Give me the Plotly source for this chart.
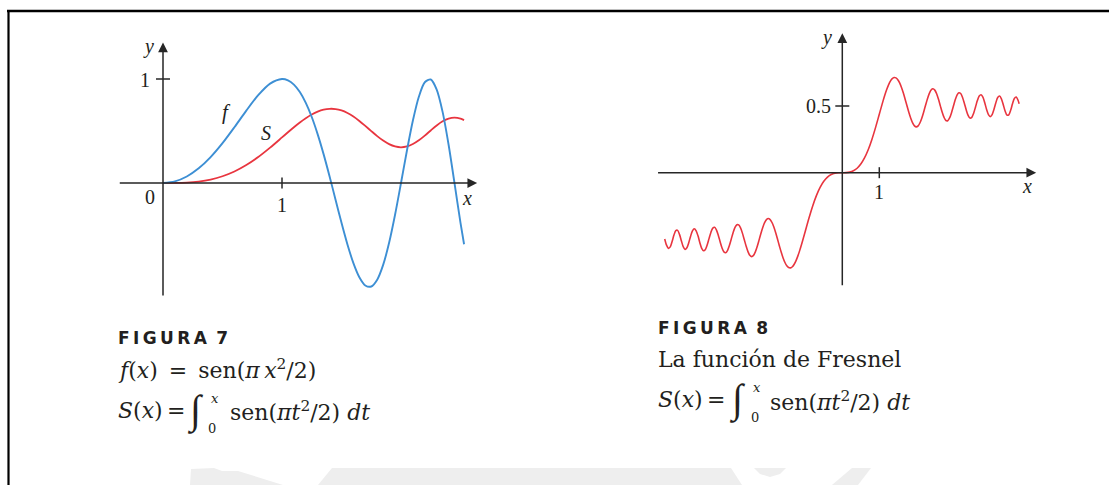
import plotly.graph_objects as go

W, H = 1109, 485

# ---------------- data ----------------
# FIGURA 7: f(x) = sen(pi x^2/2) and S(x), sampled on 0 <= x <= 2.53
x7 = [0.0, 0.1, 0.2, 0.3, 0.4, 0.5, 0.6, 0.7, 0.8, 0.9,
      1.0, 1.05, 1.1, 1.15, 1.2, 1.25, 1.3, 1.35, 1.4, 1.45,
      1.5, 1.55, 1.6, 1.65, 1.7, 1.75, 1.8, 1.85, 1.9, 1.95,
      2.0, 2.05, 2.1, 2.15, 2.2, 2.25, 2.3, 2.35, 2.4, 2.45,
      2.5, 2.53]
f7 = [0.0, 0.0157, 0.0628, 0.1409, 0.2487, 0.3827, 0.5358, 0.6959, 0.8443, 0.9558,
      1.0, 0.9871, 0.9461, 0.8744, 0.7705, 0.6344, 0.4679, 0.2752, 0.0628, -0.1603,
      -0.3827, -0.5910, -0.7705, -0.9064, -0.9851, -0.9952, -0.9298, -0.7877, -0.5750, -0.3053,
      0.0, 0.3128, 0.6004, 0.8290, 0.9686, 0.9952, 0.8980, 0.6816, 0.3681, -0.0039,
      -0.3827, -0.5889]
s7 = [0.0, 0.0005, 0.0042, 0.0141, 0.0334, 0.0647, 0.1105, 0.1721, 0.2493, 0.3398,
      0.4383, 0.4881, 0.5365, 0.5822, 0.6234, 0.6587, 0.6863, 0.7050, 0.7135, 0.7111,
      0.6975, 0.6730, 0.6389, 0.5967, 0.5492, 0.4994, 0.4509, 0.4077, 0.3734, 0.3512,
      0.3434, 0.3513, 0.3743, 0.4104, 0.4557, 0.5053, 0.5532, 0.5930, 0.6197, 0.6288,
      0.6192, 0.6045]

# FIGURA 8: Fresnel function S(x) on -4.8 <= x <= 4.78
x8_neg = [-4.8, -4.75, -4.7, -4.65, -4.6, -4.55, -4.5, -4.45, -4.4, -4.35,
          -4.3, -4.25, -4.2, -4.15, -4.1, -4.05, -4.0, -3.95, -3.9, -3.85,
          -3.8, -3.75, -3.7, -3.65, -3.6, -3.55, -3.5, -3.45, -3.4, -3.35,
          -3.3, -3.25, -3.2, -3.15, -3.1, -3.05, -3.0, -2.95, -2.9, -2.85,
          -2.8, -2.75, -2.7, -2.65, -2.6, -2.55, -2.5, -2.45, -2.4, -2.35,
          -2.3, -2.25, -2.2, -2.15, -2.1, -2.05, -2.0, -1.95, -1.9, -1.85,
          -1.8, -1.75, -1.7, -1.65, -1.6, -1.55, -1.5, -1.45, -1.4, -1.35,
          -1.3, -1.25, -1.2, -1.15, -1.1, -1.05, -1.0,
          -0.9, -0.8, -0.7, -0.6, -0.5, -0.4, -0.3, -0.2, -0.1]
s8_neg = [-0.4968, -0.5432, -0.5672, -0.5562, -0.5162, -0.4676, -0.4343, -0.4323, -0.4623, -0.5101,
          -0.5540, -0.5746, -0.5632, -0.5249, -0.4759, -0.4358, -0.4205, -0.4357, -0.4735, -0.5244,
          -0.5664, -0.5845, -0.5750, -0.5404, -0.4923, -0.4459, -0.4152, -0.4094, -0.4297, -0.4700,
          -0.5193, -0.5642, -0.5934, -0.5996, -0.5818, -0.5445, -0.4963, -0.4481, -0.4101, -0.3901,
          -0.3915, -0.4140, -0.4529, -0.5011, -0.5500, -0.5915, -0.6192, -0.6288, -0.6197, -0.5930,
          -0.5532, -0.5053, -0.4557, -0.4104, -0.3743, -0.3513, -0.3434, -0.3512, -0.3734, -0.4077,
          -0.4509, -0.4994, -0.5492, -0.5967, -0.6389, -0.6730, -0.6975, -0.7111, -0.7135, -0.7050,
          -0.6863, -0.6587, -0.6234, -0.5822, -0.5365, -0.4881, -0.4383,
          -0.3398, -0.2493, -0.1721, -0.1105, -0.0647, -0.0334, -0.0141, -0.0042, -0.0005]
x8_pos = [0.0, 0.1, 0.2, 0.3, 0.4, 0.5, 0.6, 0.7, 0.8, 0.9,
          1.0, 1.05, 1.1, 1.15, 1.2, 1.25, 1.3, 1.35, 1.4, 1.45,
          1.5, 1.55, 1.6, 1.65, 1.7, 1.75, 1.8, 1.85, 1.9, 1.95,
          2.0, 2.05, 2.1, 2.15, 2.2, 2.25, 2.3, 2.35, 2.4, 2.45,
          2.5, 2.55, 2.6, 2.65, 2.7, 2.75, 2.8, 2.85, 2.9, 2.95,
          3.0, 3.05, 3.1, 3.15, 3.2, 3.25, 3.3, 3.35, 3.4, 3.45,
          3.5, 3.55, 3.6, 3.65, 3.7, 3.75, 3.8, 3.85, 3.9, 3.95,
          4.0, 4.05, 4.1, 4.15, 4.2, 4.25, 4.3, 4.35, 4.4, 4.45,
          4.5, 4.55, 4.6, 4.65, 4.7, 4.75, 4.78]
s8_pos = [0.0, 0.0005, 0.0042, 0.0141, 0.0334, 0.0647, 0.1105, 0.1721, 0.2493, 0.3398,
          0.4383, 0.4881, 0.5365, 0.5822, 0.6234, 0.6587, 0.6863, 0.7050, 0.7135, 0.7111,
          0.6975, 0.6730, 0.6389, 0.5967, 0.5492, 0.4994, 0.4509, 0.4077, 0.3734, 0.3512,
          0.3434, 0.3513, 0.3743, 0.4104, 0.4557, 0.5053, 0.5532, 0.5930, 0.6197, 0.6288,
          0.6192, 0.5915, 0.5500, 0.5011, 0.4529, 0.4140, 0.3915, 0.3901, 0.4101, 0.4481,
          0.4963, 0.5445, 0.5818, 0.5996, 0.5934, 0.5642, 0.5193, 0.4700, 0.4297, 0.4094,
          0.4152, 0.4459, 0.4923, 0.5404, 0.5750, 0.5845, 0.5664, 0.5244, 0.4735, 0.4357,
          0.4205, 0.4358, 0.4759, 0.5249, 0.5632, 0.5746, 0.5540, 0.5101, 0.4623, 0.4323,
          0.4343, 0.4676, 0.5162, 0.5562, 0.5672, 0.5432, 0.5166]

x7_ticks = [1]
y7_ticks = [1]
x8_ticks = [1]
y8_ticks = [0.5]

# ---------------- styles ----------------
BLUE = "#3d8fd4"
RED = "#e8353f"
INK = "#231f20"
AXIS = "#262626"
SERIF = "DejaVu Serif, Liberation Serif, serif"
TIMES = "Liberation Serif, DejaVu Serif, serif"
SANS = "DejaVu Sans, Roboto, sans-serif"


def px_x(p):
    return p / W


def px_y(p):
    return 1 - p / H


fig = go.Figure()

fig.add_trace(go.Scatter(x=x7, y=s7, mode="lines", xaxis="x", yaxis="y",
                         line=dict(color=RED, width=1.8, shape="spline", smoothing=0.8),
                         hoverinfo="skip"))
fig.add_trace(go.Scatter(x=x7, y=f7, mode="lines", xaxis="x", yaxis="y",
                         line=dict(color=BLUE, width=1.9, shape="spline", smoothing=0.8),
                         hoverinfo="skip"))
fig.add_trace(go.Scatter(x=x8_neg + x8_pos, y=s8_neg + s8_pos, mode="lines",
                         xaxis="x2", yaxis="y2",
                         line=dict(color=RED, width=1.6, shape="spline", smoothing=0.8),
                         hoverinfo="skip"))

# axis frames (origin pixel, pixels per unit) for both panels
p7 = dict(ox=163.0, oy=183.0, ux=119.0, uy=104.0, left=118, right=490, top=40, bottom=300)
p8 = dict(ox=842.3, oy=172.7, ux=37.0, uy=133.4, left=640, right=1062, top=25, bottom=295)


def axis_pair(p):
    xr = [(p["left"] - p["ox"]) / p["ux"], (p["right"] - p["ox"]) / p["ux"]]
    yr = [(p["oy"] - p["bottom"]) / p["uy"], (p["oy"] - p["top"]) / p["uy"]]
    xd = [px_x(p["left"]), px_x(p["right"])]
    yd = [px_y(p["bottom"]), px_y(p["top"])]
    return xr, yr, xd, yd


xr7, yr7, xd7, yd7 = axis_pair(p7)
xr8, yr8, xd8, yd8 = axis_pair(p8)

hidden = dict(visible=False, fixedrange=True, showgrid=False, zeroline=False)
fig.update_layout(
    width=W, height=H,
    margin=dict(l=0, r=0, t=0, b=0),
    paper_bgcolor="white", plot_bgcolor="rgba(0,0,0,0)",
    showlegend=False,
    xaxis=dict(range=xr7, domain=xd7, anchor="y", **hidden),
    yaxis=dict(range=yr7, domain=yd7, anchor="x", **hidden),
    xaxis2=dict(range=xr8, domain=xd8, anchor="y2", **hidden),
    yaxis2=dict(range=yr8, domain=yd8, anchor="x2", **hidden),
)

annotations = []
shapes = []


def arrow_axis(xref, yref, x0, y0, x1, y1):
    annotations.append(dict(
        x=x1, y=y1, ax=x0, ay=y0, xref=xref, yref=yref, axref=xref, ayref=yref,
        text="", showarrow=True, arrowhead=2, arrowsize=1.3, arrowwidth=1.5,
        arrowcolor=AXIS, standoff=0, startstandoff=0))


# panel 7 axes
arrow_axis("x", "y", -0.376, 0, 2.64, 0)
arrow_axis("x", "y", 0, -1.096, 0, 1.35)
# panel 8 axes
arrow_axis("x2", "y2", -5.02, 0, 5.24, 0)
arrow_axis("x2", "y2", 0, -0.855, 0, 1.045)


def xtick(xref, yref, v, half=5.5):
    shapes.append(dict(type="line", xref=xref, yref=yref, x0=v, x1=v,
                       ysizemode="pixel", yanchor=0, y0=-half, y1=half,
                       line=dict(color=AXIS, width=1.5)))


def ytick(xref, yref, v, half=7):
    shapes.append(dict(type="line", xref=xref, yref=yref, y0=v, y1=v,
                       xsizemode="pixel", xanchor=0, x0=-half, x1=half,
                       line=dict(color=AXIS, width=1.5)))


for v in x7_ticks:
    xtick("x", "y", v)
for v in y7_ticks:
    ytick("x", "y", v)
for v in x8_ticks:
    xtick("x2", "y2", v)
for v in y8_ticks:
    ytick("x2", "y2", v)


def label(text, xp, yp, size, family=TIMES, xanchor="center", yanchor="middle",
          color=INK, weight="normal"):
    annotations.append(dict(
        x=px_x(xp), y=px_y(yp), xref="paper", yref="paper", text=text,
        showarrow=False, xanchor=xanchor, yanchor=yanchor,
        font=dict(family=family, size=size, color=color, weight=weight)))


# panel 7 labels
label("<i>y</i>", 148, 46, 20)
label(str(y7_ticks[0]), 152, 80, 20, xanchor="right")
label("0", 150, 197, 20)
label(str(x7_ticks[0]), 282, 205, 20)
label("<i>x</i>", 467, 198, 20)
label("<i>f</i>", 226, 112, 21)
label("<i>S</i>", 266, 133, 20)

# panel 8 labels
label("<i>y</i>", 826, 38, 20)
label(str(y8_ticks[0]), 833, 106, 20, xanchor="right")
label(str(x8_ticks[0]), 879, 192, 20)
label("<i>x</i>", 1027, 186, 20)

# captions
SP = "\u2009"
label(SP.join("FIGURA") + SP + " 7", 116, 338, 17, family=SANS, xanchor="left", weight="bold")
label("<i>f</i>(<i>x</i>)\u2002=\u2002sen(<i>π</i>\u2009<i>x</i><sup>2</sup>/2)", 116, 369, 22,
      family=SERIF, xanchor="left")
label("<i>S</i>(<i>x</i>)\u2009=", 116, 410, 22, family=SERIF, xanchor="left")
label("∫", 195, 410, 40, family=TIMES)
label("<i>x</i>", 215, 398, 13, family=SERIF)
label("0", 212, 428, 13, family=SERIF)
label("sen(<i>πt</i><sup>2</sup>/2) <i>dt</i>", 228, 411, 22, family=SERIF, xanchor="left")

label(SP.join("FIGURA") + SP + " 8", 656, 328, 17, family=SANS, xanchor="left", weight="bold")
label("La función de Fresnel", 656, 359, 22, family=SERIF, xanchor="left")
label("<i>S</i>(<i>x</i>)\u2009=", 656, 399, 22, family=SERIF, xanchor="left")
label("∫", 737, 399, 40, family=TIMES)
label("<i>x</i>", 757, 387, 13, family=SERIF)
label("0", 755, 417, 13, family=SERIF)
label("sen(<i>πt</i><sup>2</sup>/2) <i>dt</i>", 768, 401, 22, family=SERIF, xanchor="left")

# page frame (top and left rules)
shapes.append(dict(type="line", xref="paper", yref="paper",
                   x0=px_x(7), x1=1.0, y0=px_y(11), y1=px_y(11),
                   line=dict(color="black", width=2.5)))
shapes.append(dict(type="line", xref="paper", yref="paper",
                   x0=px_x(8.5), x1=px_x(8.5), y0=px_y(10), y1=0,
                   line=dict(color="black", width=2.2)))

# faint grey shapes along the bottom edge
GREY = "#eeeeee"


def paper_path(points):
    d = "M " + " L ".join(f"{px_x(a):.5f},{px_y(b):.5f}" for a, b in points) + " Z"
    return dict(type="path", xref="paper", yref="paper", path=d,
                fillcolor=GREY, line=dict(width=0), layer="below")


shapes.append(paper_path([(190, 485), (191, 469), (214, 468), (222, 471),
                          (238, 471), (283, 485)]))
shapes.append(paper_path([(318, 485), (332, 468), (731, 468), (742, 485)]))
shapes.append(paper_path([(754, 468), (786, 468), (780, 474), (770, 477),
                          (760, 474)]))
shapes.append(paper_path([(852, 468), (871, 468), (858, 485), (832, 485)]))

fig.update_layout(annotations=annotations, shapes=shapes)

fig.write_html("out.html")
